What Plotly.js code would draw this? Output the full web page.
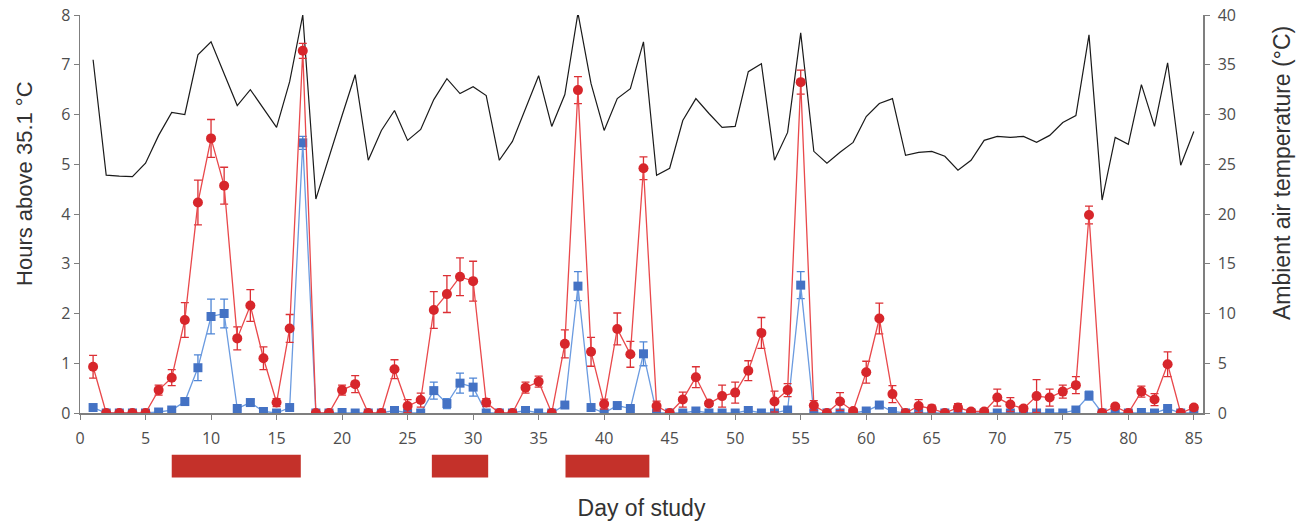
<!DOCTYPE html>
<html>
<head>
<meta charset="utf-8">
<script src="https://cdn.plot.ly/plotly-3.0.1.min.js"></script>
<style>html,body{margin:0;padding:0;background:#fff;}#chart{width:1303px;height:521px;}</style>
</head>
<body>
<div id="chart"></div>
<script>
// Day of study
var days = [];
for (var i = 1; i <= 85; i++) days.push(i);

// Hours above 35.1 °C - red (circles)
var redHours = [0.93,0,0,0,0,0.46,0.71,1.87,4.23,5.52,
  4.57,1.50,2.16,1.10,0.21,1.70,7.28,0,0,0.46,
  0.58,0,0,0.88,0.14,0.26,2.07,2.39,2.74,2.65,
  0.21,0,0,0.51,0.63,0,1.39,6.49,1.23,0.18,
  1.69,1.18,4.92,0.14,0,0.27,0.72,0.19,0.34,0.41,
  0.85,1.61,0.23,0.46,6.65,0.15,0,0.23,0.04,0.82,
  1.90,0.38,0,0.14,0.09,0,0.11,0.03,0.03,0.31,
  0.17,0.09,0.34,0.31,0.43,0.56,3.98,0,0.13,0,
  0.43,0.27,0.98,0,0.11];
var redErr = [0.23,0,0,0,0,0.10,0.16,0.35,0.45,0.38,
  0.37,0.23,0.32,0.23,0.08,0.28,0.15,0,0,0.10,
  0.17,0,0,0.19,0.13,0.14,0.37,0.37,0.38,0.40,
  0.08,0,0,0.11,0.11,0,0.28,0.27,0.29,0.10,
  0.32,0.26,0.23,0.10,0,0.15,0.21,0.05,0.22,0.21,
  0.20,0.31,0.21,0.13,0.24,0.10,0,0.18,0.03,0.22,
  0.31,0.17,0,0.13,0.07,0,0.08,0.02,0.02,0.17,
  0.14,0.05,0.33,0.17,0.13,0.17,0.18,0,0.05,0,
  0.11,0.12,0.25,0,0.05];

// Hours above 35.1 °C - blue (squares)
var blueHours = [0.11,0,0,0,0,0.02,0.06,0.23,0.91,1.94,
  2.00,0.09,0.21,0.03,0,0.11,5.43,0,0,0.01,
  0,0,0,0.05,0,0,0.45,0.19,0.60,0.52,
  0,0,0,0.05,0,0,0.16,2.55,0.11,0,
  0.15,0.09,1.19,0,0,0,0.04,0,0,0,
  0.05,0,0,0.06,2.57,0,0,0,0,0.04,
  0.16,0.03,0,0,0,0,0,0,0,0,
  0,0,0,0,0,0.06,0.35,0,0,0,
  0.01,0,0.09,0,0];
var blueErr = [0.03,0,0,0,0,0,0.02,0.07,0.26,0.35,
  0.29,0.03,0.07,0.02,0,0.04,0.13,0,0,0,
  0,0,0,0.02,0,0,0.17,0.10,0.20,0.18,
  0,0,0,0.02,0,0,0.04,0.29,0.03,0,
  0.04,0.03,0.24,0,0,0,0.02,0,0,0,
  0.02,0,0,0.02,0.27,0,0,0,0,0.02,
  0.04,0.02,0,0,0,0,0,0,0,0,
  0,0,0,0,0,0.02,0.09,0,0,0,
  0,0,0.03,0,0];

// Ambient air temperature (°C)
var airTemp = [35.5,23.9,23.8,23.75,25.1,27.9,30.2,30.0,36.0,37.3,
  34.1,30.9,32.5,30.6,28.7,33.3,40.0,21.5,25.8,29.9,
  34.0,25.4,28.4,30.4,27.4,28.5,31.5,33.6,32.1,32.8,
  31.9,25.4,27.3,30.6,33.9,28.8,32.0,40.2,33.1,28.4,
  31.6,32.6,37.3,23.9,24.6,29.4,31.6,30.1,28.7,28.8,
  34.3,35.1,25.4,28.2,38.2,26.3,25.1,26.2,27.2,29.8,
  31.1,31.6,25.9,26.2,26.3,25.8,24.4,25.4,27.4,27.8,
  27.7,27.8,27.2,27.9,29.2,29.9,38.0,21.4,27.7,27.0,
  33.0,28.8,35.2,24.9,28.3];

// Periods marked by red bars under the axis (day start, day end)
var periodStart = [7.0, 26.85, 37.05];
var periodEnd = [16.85, 31.15, 43.45];

var tickVals = [0,5,10,15,20,25,30,35,40,45,50,55,60,65,70,75,80,85];

var shapes = periodStart.map(function(s, k){
  return {type:'rect', xref:'x', yref:'paper', x0:s, x1:periodEnd[k],
    y0:-0.105, y1:-0.162, fillcolor:'#c4312a', line:{width:0}, layer:'above'};
});

var traces = [
  {x:days, y:airTemp, type:'scatter', mode:'lines', yaxis:'y', cliponaxis:false,
   line:{color:'#1a1a1a', width:1.2}, hoverinfo:'skip', showlegend:false},
  {x:days, y:blueHours, type:'scatter', mode:'lines+markers', yaxis:'y2',
   line:{color:'#6b9be0', width:1.3},
   marker:{symbol:'square', size:9, color:'#4472c4'},
   error_y:{type:'data', array:blueErr, visible:true, color:'#4f86d6', thickness:1.3, width:4},
   showlegend:false},
  {x:days, y:redHours, type:'scatter', mode:'lines+markers', yaxis:'y2',
   line:{color:'#e9484b', width:1.3},
   marker:{symbol:'circle', size:10, color:'#d7262b'},
   error_y:{type:'data', array:redErr, visible:true, color:'#dc3035', thickness:1.3, width:4},
   showlegend:false}
];

var tickFont = {family:'Open Sans, Liberation Sans, sans-serif', size:16, color:'#4d4d4d'};
var titleFont = {family:'Liberation Sans, Arial, sans-serif', size:22, color:'#333333'};
var titleFontR = {family:'Liberation Sans, Arial, sans-serif', size:23, color:'#333333'};

var layout = {
  width:1303, height:521,
  margin:{l:80, r:100, t:15, b:108},
  paper_bgcolor:'#ffffff', plot_bgcolor:'#ffffff',
  showlegend:false,
  xaxis:{range:[0,85.7], tickmode:'array', tickvals:tickVals, ticktext:tickVals.map(String),
    showgrid:false, zeroline:false, showline:true, linecolor:'#7f7f7f', linewidth:1.5,
    ticks:'outside', ticklen:5, tickcolor:'#7f7f7f', tickfont:tickFont, ticklabelstandoff:5,
    title:{text:'Day of study', font:titleFontR, standoff:52}},
  yaxis:{range:[0,40], side:'right', tickvals:[0,5,10,15,20,25,30,35,40],
    showgrid:false, zeroline:false, showline:true, linecolor:'#7f7f7f', linewidth:1.5,
    ticks:'outside', ticklen:5, tickcolor:'#7f7f7f', tickfont:tickFont, ticklabelstandoff:5},
  yaxis2:{range:[0,8], side:'left', overlaying:'y', tickvals:[0,1,2,3,4,5,6,7,8],
    showgrid:false, zeroline:false, showline:true, linecolor:'#7f7f7f', linewidth:1.5,
    ticks:'outside', ticklen:5, tickcolor:'#7f7f7f', tickfont:tickFont},
  annotations:[
    {text:'Hours above 35.1 °C', xref:'paper', yref:'paper', x:-0.049, y:0.578,
     xanchor:'center', yanchor:'middle', textangle:-90, showarrow:false, font:titleFont},
    {text:'Ambient air temperature (°C)', xref:'paper', yref:'paper', x:1.0704, y:0.603,
     xanchor:'center', yanchor:'middle', textangle:-90, showarrow:false, font:titleFontR}
  ],
  shapes:shapes
};

Plotly.newPlot('chart', traces, layout, {displayModeBar:false, staticPlot:true});
</script>
</body>
</html>
